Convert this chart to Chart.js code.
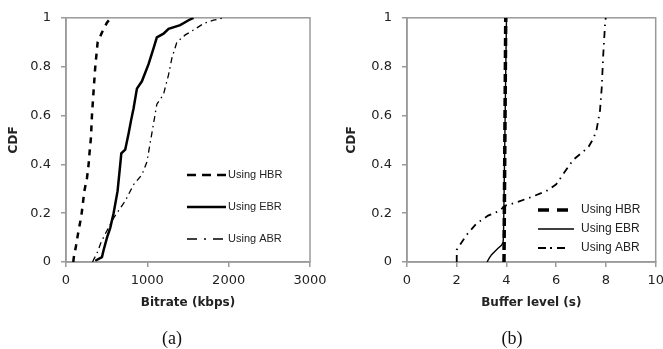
<!DOCTYPE html>
<html>
<head>
<meta charset="utf-8">
<script src="https://cdn.jsdelivr.net/npm/chart.js@4"></script>
<style>
  html, body { margin: 0; padding: 0; background: #fff; }
  #wrap { position: relative; width: 663px; height: 349px; overflow: hidden; }
  canvas { position: absolute; top: 0; }
  #chartA { left: 0; }
  #chartB { left: 331px; }
  .caption {
    position: absolute; top: 328px; line-height: 20px;
    font-family: "Liberation Serif", "Times New Roman", serif; font-size: 18px;
    color: #111; transform: translateX(-50%);
  }
</style>
</head>
<body>
<div id="wrap">
  <canvas id="chartA" width="331" height="349"></canvas>
  <canvas id="chartB" width="332" height="349"></canvas>
  <div class="caption" style="left:172px;">(a)</div>
  <div class="caption" style="left:512px;">(b)</div>
</div>
<script>
// ---- (a) bitrate CDF ----
const bitrateHBR = [90, 94, 123, 155, 188, 204, 225, 258, 278, 290, 307, 319, 339, 360, 389, 442, 503, 553];
const cdfHBR_a   = [0, 0.015, 0.066, 0.13, 0.187, 0.23, 0.29, 0.344, 0.40, 0.45, 0.51, 0.6, 0.7, 0.8, 0.9, 0.94, 0.98, 1.0];

const bitrateEBR = [360, 442, 462, 504, 544, 585, 634, 667, 680, 728, 769, 800, 831, 872, 933, 1015, 1076, 1117, 1199, 1261, 1404, 1507, 1568];
const cdfEBR_a   = [0.005, 0.02, 0.048, 0.10, 0.14, 0.2, 0.29, 0.4, 0.445, 0.46, 0.525, 0.58, 0.63, 0.71, 0.74, 0.81, 0.875, 0.92, 0.935, 0.955, 0.97, 0.99, 1.0];

const bitrateABR = [327, 340, 380, 430, 483, 585, 728, 831, 933, 995, 1044, 1076, 1117, 1199, 1261, 1302, 1363, 1466, 1568, 1690, 1813, 1936];
const cdfABR_a   = [0, 0.01, 0.035, 0.08, 0.115, 0.18, 0.25, 0.317, 0.357, 0.41, 0.505, 0.566, 0.646, 0.687, 0.767, 0.835, 0.9, 0.93, 0.95, 0.976, 0.99, 1.0];

// ---- (b) buffer level CDF ----
const bufferHBR = [3.9, 3.97];
const cdfHBR_b  = [0, 1.0];

const bufferEBR = [3.22, 3.3, 3.4, 3.55, 3.66, 3.8, 3.86, 3.88, 4.0];
const cdfEBR_b  = [0, 0.015, 0.03, 0.045, 0.056, 0.068, 0.08, 0.1, 1.0];

const bufferABR = [2.0, 2.0, 2.39, 2.79, 3.26, 3.73, 3.93, 4.4, 4.94, 5.6, 6.0, 6.28, 6.68, 7.29, 7.49, 7.62, 7.76, 7.83, 7.89, 7.96, 7.99];
const cdfABR_b  = [0, 0.05, 0.11, 0.157, 0.19, 0.21, 0.23, 0.244, 0.264, 0.29, 0.318, 0.36, 0.418, 0.47, 0.505, 0.54, 0.62, 0.713, 0.847, 0.968, 1.0];

const seriesNames = ['Using HBR', 'Using EBR', 'Using ABR'];

const INK = '#000';
const AXIS = '#9a9a9a';
const TICK_FONT = { family: 'DejaVu Sans', size: 13 };
const TITLE_FONT = { family: 'DejaVu Sans', size: 12, weight: 'bold' };

function pts(xs, ys) {
    return xs.map((x, i) => ({ x: x, y: ys[i] }));
}

// grey box round the plot area
const framePlugin = {
    id: 'frame',
    beforeDatasetsDraw(chart, args, opts) {
        const { ctx, chartArea: a } = chart;
        ctx.save();
        ctx.strokeStyle = opts.color;
        ctx.lineWidth = opts.width;
        ctx.strokeRect(a.left, a.top, a.right - a.left, a.bottom - a.top);
        ctx.restore();
    }
};

// legend drawn inside the plot, like the original figure
const keyPlugin = {
    id: 'key',
    afterDraw(chart, args, opts) {
        const ctx = chart.ctx;
        ctx.save();
        opts.items.forEach((it, i) => {
            const ds = chart.data.datasets[i];
            const y = opts.y + i * opts.dy;
            ctx.beginPath();
            ctx.setLineDash(it.dash);
            ctx.lineWidth = it.width;
            ctx.strokeStyle = ds.borderColor;
            ctx.moveTo(opts.x, y);
            ctx.lineTo(opts.x + it.len, y);
            ctx.stroke();
            ctx.setLineDash([]);
            ctx.fillStyle = '#222';
            ctx.font = opts.font;
            ctx.textBaseline = 'middle';
            ctx.fillText(ds.label, opts.textX, y);
        });
        ctx.restore();
    }
};

function makeScales(xMax, xStep, xTitle, yWidth, yTitlePad) {
    return {
        x: {
            type: 'linear', min: 0, max: xMax,
            ticks: { stepSize: xStep, padding: 6, font: TICK_FONT, color: '#222', callback: v => String(v) },
            grid: { drawOnChartArea: false, drawTicks: true, tickLength: 5, color: AXIS, lineWidth: 1.5 },
            border: { display: true, color: AXIS, width: 1.5 },
            title: { display: true, text: xTitle, font: TITLE_FONT, color: '#222', padding: { top: 0, bottom: 38.8 } },
            // let the last label run to the edge instead of shrinking the plot
            afterFit: s => { s.height = 87; s.paddingLeft = 0; s.paddingRight = 0; }
        },
        y: {
            type: 'linear', min: 0, max: 1,
            ticks: { stepSize: 0.2, padding: 10, font: TICK_FONT, color: '#222', callback: v => String(+v.toFixed(1)) },
            grid: { drawOnChartArea: false, drawTicks: true, tickLength: 5, color: AXIS, lineWidth: 1.5 },
            border: { display: true, color: AXIS, width: 1.5 },
            title: { display: true, text: 'CDF', font: TITLE_FONT, color: '#222', padding: { top: yTitlePad, bottom: 0 } },
            afterFit: s => { s.width = yWidth; }
        }
    };
}

function line(label, data, width, dash) {
    return {
        label: label, data: data,
        borderColor: INK, borderWidth: width, borderDash: dash,
        pointRadius: 0, fill: false, tension: 0
    };
}

new Chart(document.getElementById('chartA'), {
    type: 'line',
    data: {
        datasets: [
            line(seriesNames[0], pts(bitrateHBR, cdfHBR_a), 2.5, [6, 6]),
            line(seriesNames[1], pts(bitrateEBR, cdfEBR_a), 2.5, []),
            line(seriesNames[2], pts(bitrateABR, cdfABR_a), 1.3, [6, 4, 1.5, 4])
        ]
    },
    options: {
        responsive: false, animation: false, devicePixelRatio: 1,
        layout: { padding: { left: 0, right: 21, top: 14, bottom: 0 } },
        scales: makeScales(3000, 1000, 'Bitrate (kbps)', 66, 6.3),
        plugins: {
            legend: { display: false }, tooltip: { enabled: false },
            frame: { color: AXIS, width: 1.5 },
            key: {
                x: 187, textX: 228, y: 175, dy: 32, font: '11px "Liberation Sans", Arial, sans-serif',
                items: [
                    { dash: [9, 6], width: 2.5, len: 39 },
                    { dash: [], width: 2.5, len: 39 },
                    { dash: [10, 7, 2, 7], width: 1.5, len: 36 }
                ]
            }
        }
    },
    plugins: [framePlugin, keyPlugin]
});

new Chart(document.getElementById('chartB'), {
    type: 'line',
    data: {
        datasets: [
            line(seriesNames[0], pts(bufferHBR, cdfHBR_b), 3.5, [8, 4]),
            line(seriesNames[1], pts(bufferEBR, cdfEBR_b), 1.4, []),
            line(seriesNames[2], pts(bufferABR, cdfABR_b), 1.8, [7, 5, 1.5, 5])
        ]
    },
    options: {
        responsive: false, animation: false, devicePixelRatio: 1,
        layout: { padding: { left: 0, right: 7.3, top: 12, bottom: 0 } },
        scales: makeScales(10, 2, 'Buffer level (s)', 76, 13.8),
        plugins: {
            legend: { display: false }, tooltip: { enabled: false },
            frame: { color: AXIS, width: 1.5 },
            key: {
                x: 207, textX: 250, y: 210, dy: 19, font: '12px "Liberation Sans", Arial, sans-serif',
                items: [
                    { dash: [11, 8], width: 3.5, len: 30 },
                    { dash: [], width: 1.4, len: 36 },
                    { dash: [8, 4, 2, 5], width: 1.8, len: 29 }
                ]
            }
        }
    },
    plugins: [framePlugin, keyPlugin]
});
</script>
</body>
</html>
